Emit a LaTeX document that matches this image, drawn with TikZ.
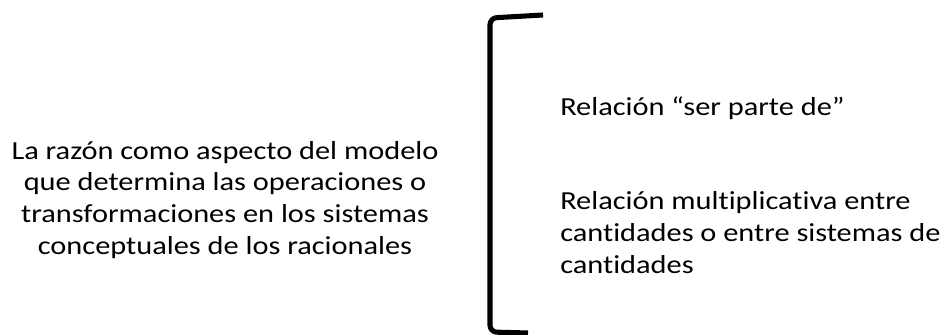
\documentclass[tikz,border=0pt]{standalone}
\usepackage{fontspec}
\setmainfont{Carlito}[FakeStretch=1.168,Ligatures=CommonOff]
\usepackage{tikz}
\usetikzlibrary{positioning}
\tikzset{
  lbl/.style={inner sep=0pt,font=\fontsize{19.5}{23.7}\selectfont},
  brk/.style={line width=3.8pt,line cap=butt,line join=round,rounded corners=5pt},
}

\begin{document}
\begin{tikzpicture}[x=0.75pt,y=-0.75pt]
\useasboundingbox (0,0) rectangle (945,335);
% base anchor sits on the last line
\node[lbl,align=center,anchor=base] (razon) at (225,254)
  {La razón como aspecto del modelo\\que determina las operaciones o\\%
   transformaciones en los sistemas\\conceptuales de los racionales};
\node[lbl,align=left,anchor=base west] (parte) at (560,115)
  {Relación “ser parte de”};
\node[lbl,align=left,anchor=base west] (mult) at (560,273)
  {Relación multiplicativa entre\\cantidades o entre sistemas de\\cantidades};
% bracket
\coordinate (btop) at (543,15);
\coordinate (bbot) at (528,333);
\draw[brk] (btop) -- (490,18) -- (490,332) -- (bbot);
\end{tikzpicture}
\end{document}
